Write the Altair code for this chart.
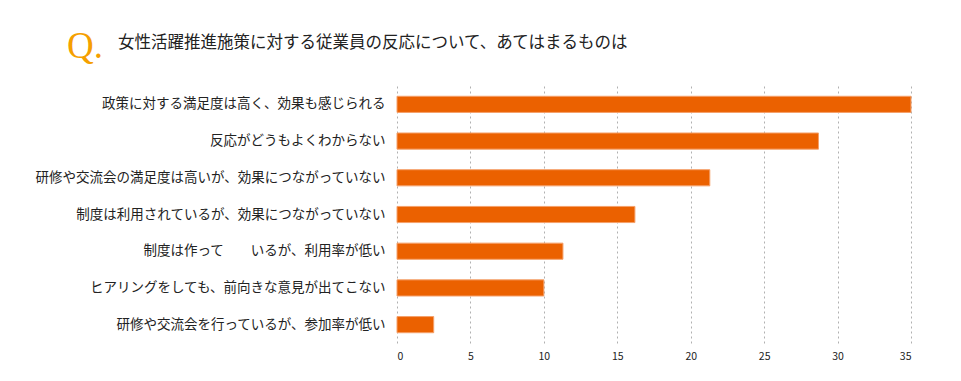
import altair as alt
import pandas as pd

categories = [
    "政策に対する満足度は高く、効果も感じられる",
    "反応がどうもよくわからない",
    "研修や交流会の満足度は高いが、効果につながっていない",
    "制度は利用されているが、効果につながっていない",
    "制度は作って　　いるが、利用率が低い",
    "ヒアリングをしても、前向きな意見が出てこない",
    "研修や交流会を行っているが、参加率が低い",
]
values = [35.0, 28.7, 21.3, 16.2, 11.3, 10.0, 2.5]
x_ticks = [0, 5, 10, 15, 20, 25, 30, 35]
title_text = "女性活躍推進施策に対する従業員の反応について、あてはまるものは"

df = pd.DataFrame({"cat": categories, "val": values})
FONT = "Noto Sans CJK JP"

bars = alt.Chart(df).mark_bar(color="#eb6100", stroke="#f5a06a", strokeWidth=1).encode(
    x=alt.X("val:Q", scale=alt.Scale(domain=[0, 35], nice=False),
            axis=alt.Axis(values=x_ticks, title=None, grid=True, gridDash=[2, 3],
                          gridColor="#b0b0b0", domain=False, ticks=False,
                          labelFontSize=10.5, labelColor="#222", labelFont=FONT,
                          labelPadding=8)),
    y=alt.Y("cat:N", sort=categories,
            scale=alt.Scale(paddingInner=0.56, paddingOuter=0.28),
            axis=alt.Axis(title=None, domain=False, ticks=False, labelFontSize=13.5,
                          labelColor="#222", labelFont=FONT, labelPadding=12,
                          labelLimit=420, minExtent=380, maxExtent=380)),
)

q = alt.Chart(pd.DataFrame({"t": ["Q."]})).mark_text(
    font="Liberation Serif", fontSize=37, color="#f5a000", align="left", baseline="alphabetic"
).encode(text="t:N", x=alt.value(-330), y=alt.value(-28))

head = alt.Chart(pd.DataFrame({"t": [title_text]})).mark_text(
    font=FONT, fontSize=16.5, color="#222", align="left", baseline="middle"
).encode(text="t:N", x=alt.value(-279), y=alt.value(-43))

chart = alt.layer(bars, q, head).properties(
    width=514, height=257,
    padding={"left": 9, "top": 20, "right": 5, "bottom": 5},
).configure_view(stroke=None)

chart.save("out.html", embed_options={"renderer": "svg", "actions": False})
